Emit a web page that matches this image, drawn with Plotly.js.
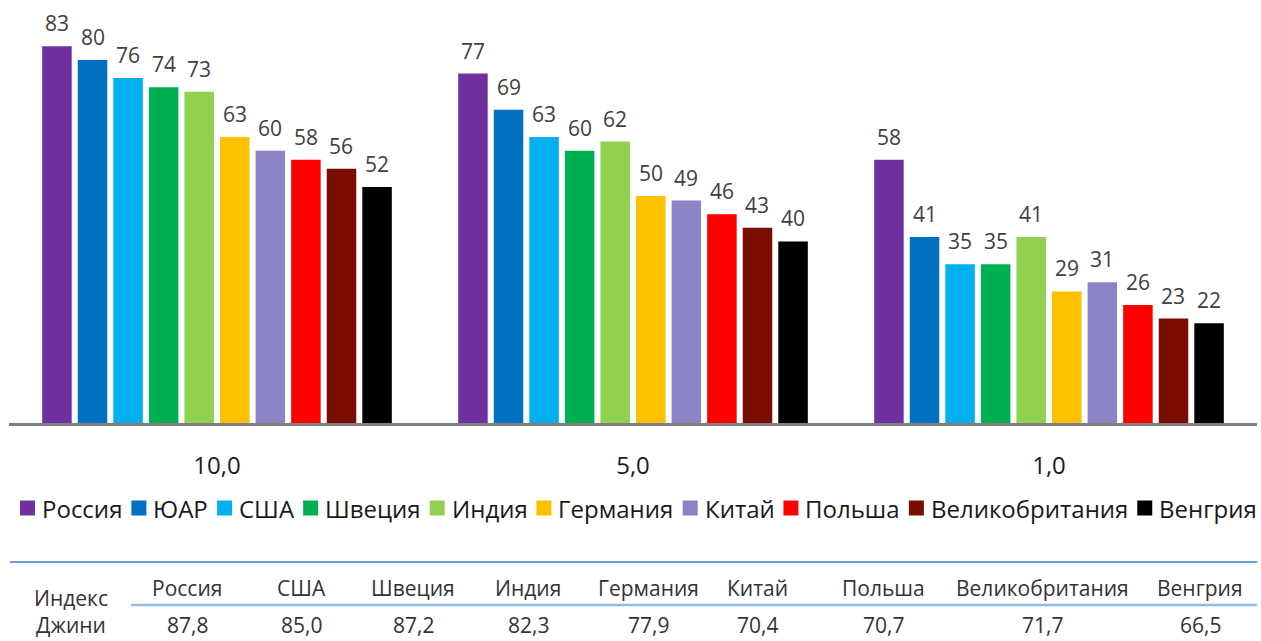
<!DOCTYPE html>
<html>
<head>
<meta charset="utf-8">
<script src="https://cdn.plot.ly/plotly-3.0.1.min.js"></script>
<style>
html,body{margin:0;padding:0;background:#fff;}
#chart{width:1261px;height:641px;}
</style>
</head>
<body>
<div id="chart"></div>
<script>
// ---- data ----
const categories = ['10,0', '5,0', '1,0'];
const seriesNames = ['Россия', 'ЮАР', 'США', 'Швеция', 'Индия', 'Германия', 'Китай', 'Польша', 'Великобритания', 'Венгрия'];
const russia   = [83, 77, 58];
const sar      = [80, 69, 41];
const usa      = [76, 63, 35];
const sweden   = [74, 60, 35];
const india    = [73, 62, 41];
const germany  = [63, 50, 29];
const china    = [60, 49, 31];
const poland   = [58, 46, 26];
const uk       = [56, 43, 23];
const hungary  = [52, 40, 22];
const seriesValues = [russia, sar, usa, sweden, india, germany, china, poland, uk, hungary];

const giniCountries = ['Россия', 'США', 'Швеция', 'Индия', 'Германия', 'Китай', 'Польша', 'Великобритания', 'Венгрия'];
const giniValues = ['87,8', '85,0', '87,2', '82,3', '77,9', '70,4', '70,7', '71,7', '66,5'];
const giniLabel = 'Индекс<br>Джини';

// ---- styling ----
const colors = ['#7030A0', '#0070C0', '#00B0F0', '#00B050', '#92D050', '#FFC000', '#8985C6', '#FF0000', '#7B0C00', '#000000'];
const FONT = 'Open Sans, Noto Sans, sans-serif';
const W = 1261, H = 641;
const margin = {l: 9, r: 4, t: 0, b: 218};
const plotW = W - margin.l - margin.r;
const plotH = H - margin.t - margin.b;
const bargap = 0.145;
const px2x = px => (px - margin.l) / plotW;
const py2y = py => (H - margin.b - py) / plotH;

const traces = seriesNames.map((name, i) => ({
  type: 'bar',
  name: name,
  x: categories,
  y: seriesValues[i],
  marker: {color: colors[i], line: {width: 0}},
  hoverinfo: 'name+y',
  showlegend: false
}));

const annotations = [];
const shapes = [];
const nS = seriesNames.length;

// value labels above bars
seriesNames.forEach((name, i) => {
  seriesValues[i].forEach((v, c) => {
    annotations.push({
      x: c + (i - (nS - 1) / 2) * (1 - bargap) / nS,
      y: v, xref: 'x', yref: 'y',
      text: String(v), showarrow: false,
      yanchor: 'bottom', yshift: 7,
      font: {family: FONT, size: 21, color: '#404040'}
    });
  });
});

// custom legend (one row, spanning the width)
const LEG_FONT = 24, SW = 15, SW_GAP = 7;
const legLeft = 20, legRight = 1257, legY = 508;
const cv = document.createElement('canvas').getContext('2d');
cv.font = LEG_FONT + 'px "Open Sans"';
const tw = seriesNames.map(n => cv.measureText(n).width);
const totalText = tw.reduce((a, b) => a + b, 0);
const itemGap = Math.max(6, (legRight - legLeft - totalText - nS * (SW + SW_GAP)) / (nS - 1));
let cur = legLeft;
seriesNames.forEach((n, i) => {
  shapes.push({type: 'rect', xref: 'paper', yref: 'paper',
    x0: px2x(cur), x1: px2x(cur + SW), y0: py2y(legY - SW / 2), y1: py2y(legY + SW / 2),
    fillcolor: colors[i], line: {width: 0}});
  annotations.push({x: px2x(cur + SW + SW_GAP - 2), y: py2y(legY), xref: 'paper', yref: 'paper',
    text: n, showarrow: false, xanchor: 'left', yanchor: 'middle',
    font: {family: FONT, size: LEG_FONT, color: '#1a1a1a'}});
  cur += SW + SW_GAP + tw[i] + itemGap;
});

// table
const colCenters = [187, 301, 413, 528, 648, 757, 883, 1042, 1200];
giniCountries.forEach((c, k) => {
  annotations.push({x: px2x(colCenters[k]), y: py2y(588), xref: 'paper', yref: 'paper',
    text: c, showarrow: false, xanchor: 'center', yanchor: 'middle',
    font: {family: FONT, size: 21, color: '#333333'}});
  annotations.push({x: px2x(colCenters[k]), y: py2y(641), xref: 'paper', yref: 'paper',
    text: giniValues[k], showarrow: false, xanchor: 'center', yanchor: 'bottom',
    font: {family: FONT, size: 21, color: '#333333'}});
});
annotations.push({x: px2x(71), y: py2y(611), xref: 'paper', yref: 'paper',
  text: giniLabel, showarrow: false, xanchor: 'center', yanchor: 'middle',
  font: {family: FONT, size: 21, color: '#333333'}});

shapes.push(
  {type: 'line', xref: 'paper', yref: 'paper', x0: px2x(10), x1: px2x(1257), y0: py2y(562), y1: py2y(562),
   line: {color: '#2f7fcf', width: 1.5}},
  {type: 'line', xref: 'paper', yref: 'paper', x0: px2x(131), x1: px2x(1257), y0: py2y(605), y1: py2y(605),
   line: {color: '#8fbbe6', width: 2.5}}
);

const layout = {
  width: W, height: H,
  margin: margin,
  paper_bgcolor: '#ffffff', plot_bgcolor: '#ffffff',
  font: {family: FONT, color: '#1a1a1a'},
  barmode: 'group',
  bargap: bargap,
  bargroupgap: 0.17,
  showlegend: false,
  xaxis: {
    type: 'category', showgrid: false, zeroline: false,
    showline: true, linecolor: '#808080', linewidth: 3,
    ticks: '', ticklabelstandoff: 19,
    tickfont: {family: FONT, size: 24, color: '#1a1a1a'},
    fixedrange: true
  },
  yaxis: {
    range: [0, 93.2], visible: false, showgrid: false, zeroline: false, fixedrange: true
  },
  annotations: annotations,
  shapes: shapes
};

Plotly.newPlot('chart', traces, layout, {displayModeBar: false, staticPlot: true});
</script>
</body>
</html>
